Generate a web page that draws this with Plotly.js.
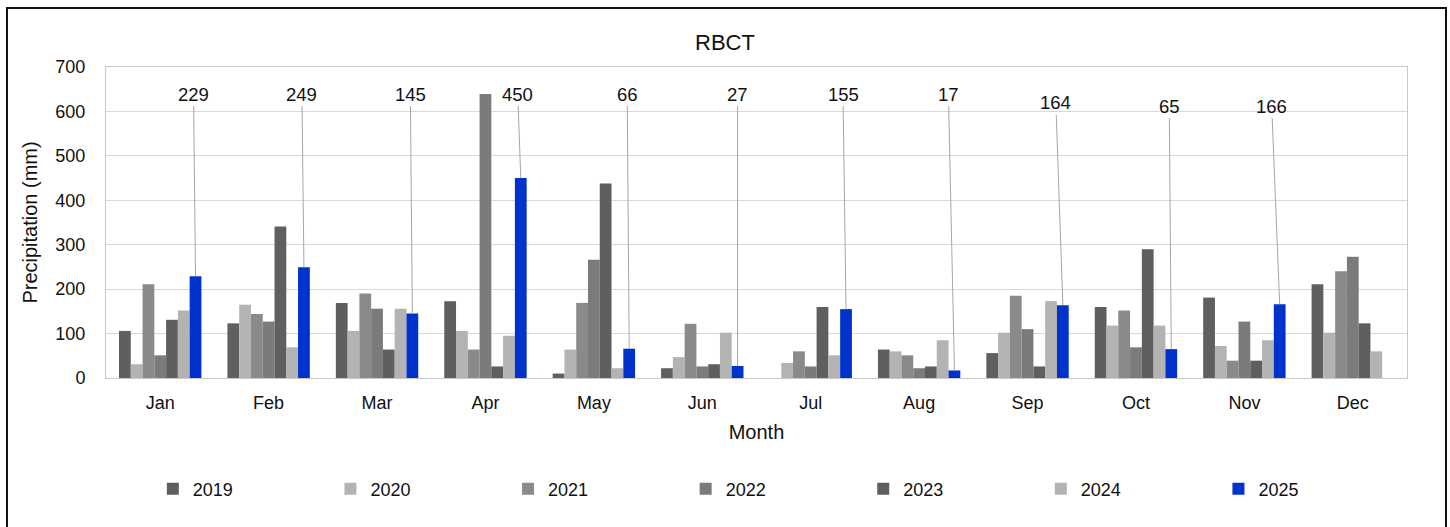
<!DOCTYPE html>
<html>
<head>
<meta charset="utf-8">
<script src="https://cdn.plot.ly/plotly-3.0.1.min.js"></script>
<style>
  body { margin: 0; background: #fff; }
  #chart { position: absolute; left: 0; top: 0; width: 1450px; height: 527px; }
  #frame { position: absolute; left: 6px; top: 7px; width: 1437px; height: 540px;
           border: 2px solid #111; pointer-events: none; }
</style>
</head>
<body>
<div id="chart"></div>
<div id="frame"></div>
<script>
// monthly precipitation (mm) at RBCT
const months = ['Jan', 'Feb', 'Mar', 'Apr', 'May', 'Jun', 'Jul', 'Aug', 'Sep', 'Oct', 'Nov', 'Dec'];
const years = ['2019', '2020', '2021', '2022', '2023', '2024', '2025'];

const p2019 = [106, 123, 169, 173, 10, 22, 0, 64, 56, 160, 181, 211];
const p2020 = [31, 165, 106, 106, 64, 47, 34, 60, 102, 118, 72, 102];
const p2021 = [211, 144, 190, 64, 169, 122, 60, 51, 185, 152, 39, 240];
const p2022 = [51, 127, 156, 639, 266, 26, 26, 22, 110, 69, 127, 273];
const p2023 = [131, 341, 64, 26, 438, 31, 160, 26, 26, 290, 39, 123];
const p2024 = [152, 69, 156, 95, 22, 102, 51, 85, 173, 118, 85, 60];
const p2025 = [229, 249, 145, 450, 66, 27, 155, 17, 164, 65, 166, null];

const series = [p2019, p2020, p2021, p2022, p2023, p2024, p2025];
const colors = ['#5f5f5f', '#b3b3b3', '#8a8a8a', '#7b7b7b', '#5f5f5f', '#b3b3b3', '#0033cc'];

const font = 'Liberation Sans, Arial, sans-serif';
const bargap = 0.24;

const traces = series.map((vals, i) => ({
    type: 'bar',
    name: years[i],
    x: months,
    y: vals,
    marker: { color: colors[i], line: { width: 0 } },
    hoverinfo: 'x+y+name'
}));

// leader-line labels for the 2025 bars: [pixel shift of label, label height in mm]
const labelPos = [
    [-2, 639], [-2, 639], [-2, 639], [-3, 639], [-2, 639], [0, 639],
    [-3, 639], [-6, 639], [-7, 619], [-2, 612], [-8, 612]
];
const w = 1 - bargap;
const lastOffset = -w / 2 + (years.length - 0.5) * w / years.length;

const annotations = p2025.map((v, i) => v == null ? null : ({
    x: i + lastOffset,
    y: v,
    xref: 'x', yref: 'y',
    axref: 'pixel', ayref: 'y',
    ax: labelPos[i][0],
    ay: labelPos[i][1],
    text: String(v),
    showarrow: true,
    arrowhead: 0,
    arrowwidth: 1,
    arrowcolor: '#a6a6a6',
    standoff: 0,
    font: { family: font, size: 18.5, color: '#111' }
})).filter(a => a);

const layout = {
    width: 1450,
    height: 527,
    paper_bgcolor: '#fff',
    plot_bgcolor: '#fff',
    font: { family: font, size: 18, color: '#111' },
    margin: { l: 106, r: 43, t: 67, b: 149 },
    title: {
        text: 'RBCT',
        font: { family: font, size: 22, color: '#111' },
        x: 0.5, xref: 'container', xanchor: 'center',
        y: 1 - 42 / 527, yref: 'container', yanchor: 'middle'
    },
    barmode: 'group',
    bargap: bargap,
    bargroupgap: 0,
    xaxis: {
        type: 'category',
        showgrid: false,
        showline: true, mirror: true, linecolor: '#c8c8c8', linewidth: 1,
        ticks: '',
        ticklabelstandoff: 8,
        tickfont: { family: font, size: 18, color: '#111' },
        title: { text: 'Month', font: { family: font, size: 20, color: '#111' }, standoff: 13 }
    },
    yaxis: {
        range: [0, 700],
        dtick: 100,
        showgrid: true, gridcolor: '#d9d9d9', gridwidth: 1,
        zeroline: false,
        showline: true, mirror: true, linecolor: '#c8c8c8', linewidth: 1,
        ticks: '',
        ticklabelstandoff: 16,
        tickfont: { family: font, size: 18, color: '#111' },
        title: { text: 'Precipitation (mm)', font: { family: font, size: 20, color: '#111' }, standoff: 12 }
    },
    showlegend: true,
    legend: {
        orientation: 'h',
        x: 0.036, xanchor: 'left',
        y: 1 - (489 - 67) / 311, yanchor: 'middle',
        entrywidth: 132.6,
        entrywidthmode: 'pixels',
        itemwidth: 30,
        font: { family: font, size: 18, color: '#111' },
        traceorder: 'normal'
    },
    annotations: annotations
};

Plotly.newPlot('chart', traces, layout, { displayModeBar: false, staticPlot: true });
</script>
</body>
</html>
